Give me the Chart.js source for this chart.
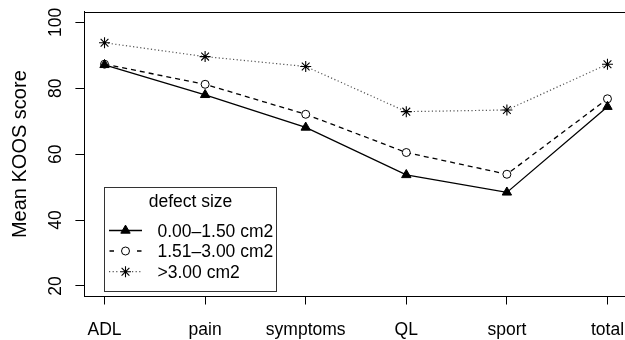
<!DOCTYPE html>
<html>
<head>
<meta charset="utf-8">
<script src="https://cdn.jsdelivr.net/npm/chart.js@4.4.1/dist/chart.umd.min.js"></script>
<style>
html,body{margin:0;padding:0;background:#fff;overflow:hidden;}
#wrap{width:640px;height:340px;}
</style>
</head>
<body>
<div id="wrap"><canvas id="c" width="640" height="340"></canvas></div>
<script>
const categories = ['ADL', 'pain', 'symptoms', 'QL', 'sport', 'total'];
const smallDefect = [87.1, 78.0, 68.1, 53.7, 48.4, 74.4];
const mediumDefect = [87.3, 81.2, 72.1, 60.5, 53.9, 76.8];
const largeDefect = [93.8, 89.6, 86.6, 72.9, 73.4, 87.3];
const yTicks = [20, 40, 60, 80, 100];
const seriesLabels = ['0.00\u20131.50 cm2', '1.51\u20133.00 cm2', '>3.00 cm2'];
const legendTitle = 'defect size';
const yTitle = 'Mean KOOS score';

const FONT = "'Liberation Sans', Arial, sans-serif";

const styles = [
  {color:'#000', dash:[], width:1.3, pointStyle:'triangle', radius:5.4, fill:'#000', pbw:1},
  {color:'#000', dash:[5,4], width:1.3, pointStyle:'circle', radius:4, fill:'#fff', pbw:1},
  {color:'#555', dash:[1.2,2.4], width:1.2, pointStyle:'star', radius:5.5, fill:'#000', pbw:1.1}
];
const allSeries = [smallDefect, mediumDefect, largeDefect];

const datasets = allSeries.map((vals, k) => ({
  label: seriesLabels[k],
  data: vals.map((v, i) => ({x: i + 1, y: v})),
  borderColor: styles[k].color,
  borderDash: styles[k].dash,
  borderWidth: styles[k].width,
  pointStyle: styles[k].pointStyle,
  pointRadius: styles[k].radius,
  pointBackgroundColor: styles[k].fill,
  pointBorderColor: '#000',
  pointBorderWidth: styles[k].pbw,
  tension: 0,
  fill: false
}));

const decor = {
  id: 'decor',
  afterDraw(chart) {
    const ctx = chart.ctx;
    const ca = chart.chartArea;
    const xs = chart.scales.x, ys = chart.scales.y;
    ctx.save();
    // top and right border
    ctx.strokeStyle = '#000';
    ctx.lineWidth = 1;
    ctx.beginPath();
    ctx.moveTo(ca.left, Math.round(ca.top) + 0.5);
    ctx.lineTo(ca.right, Math.round(ca.top) + 0.5);
    ctx.lineTo(ca.right, ca.bottom);
    ctx.stroke();

    // x labels
    ctx.fillStyle = '#000';
    ctx.font = '17.5px ' + FONT;
    ctx.textAlign = 'center';
    ctx.textBaseline = 'alphabetic';
    categories.forEach((c, i) => {
      ctx.fillText(c, xs.getPixelForValue(i + 1), 335);
    });

    // y labels rotated
    yTicks.forEach(v => {
      const y = ys.getPixelForValue(v);
      ctx.save();
      ctx.translate(61, y);
      ctx.rotate(-Math.PI / 2);
      ctx.textAlign = 'center';
      ctx.textBaseline = 'alphabetic';
      ctx.fillText(String(v), 0, 0);
      ctx.restore();
    });

    // y title
    ctx.save();
    ctx.font = '20px ' + FONT;
    ctx.translate(26, (ca.top + ca.bottom) / 2);
    ctx.rotate(-Math.PI / 2);
    ctx.textAlign = 'center';
    ctx.textBaseline = 'alphabetic';
    ctx.fillText(yTitle, 0, 0);
    ctx.restore();

    // legend
    const L = 104.5, T = 187.5, R = 276.5, B = 291.5;
    ctx.fillStyle = '#fff';
    ctx.fillRect(L, T, R - L, B - T);
    ctx.strokeStyle = '#333';
    ctx.lineWidth = 1;
    ctx.strokeRect(L, T, R - L, B - T);
    ctx.fillStyle = '#000';
    ctx.font = '17.5px ' + FONT;
    ctx.textAlign = 'center';
    ctx.fillText(legendTitle, (L + R) / 2, 207);
    const rowY = [230.5, 251, 271.7];
    const mx = 125.5;
    seriesLabels.forEach((lab, k) => {
      const st = styles[k];
      const y = rowY[k];
      ctx.save();
      ctx.strokeStyle = st.color;
      ctx.lineWidth = st.width;
      ctx.setLineDash(st.dash);
      ctx.beginPath();
      if (k === 0) {
        ctx.moveTo(109, y); ctx.lineTo(142, y);
      } else if (k === 1) {
        ctx.setLineDash([]);
        ctx.moveTo(109.5, y); ctx.lineTo(114, y);
        ctx.moveTo(137, y); ctx.lineTo(141.5, y);
      } else {
        ctx.moveTo(109, y); ctx.lineTo(119, y);
        ctx.moveTo(132, y); ctx.lineTo(142, y);
      }
      ctx.stroke();
      ctx.setLineDash([]);
      ctx.fillStyle = st.fill;
      ctx.strokeStyle = '#000';
      ctx.lineWidth = st.pbw;
      Chart.helpers.drawPoint(ctx, {pointStyle: st.pointStyle, radius: st.radius, rotation: 0, borderWidth: st.pbw}, mx, y);
      ctx.restore();
      ctx.fillStyle = '#000';
      ctx.textAlign = 'left';
      ctx.fillText(lab, 157.5, y + 6);
    });
    ctx.restore();
  }
};

new Chart(document.getElementById('c'), {
  type: 'line',
  data: {datasets},
  options: {
    responsive: false,
    animation: false,
    layout: {padding: {top: 11.8, right: 12.4, left: 0, bottom: 0}},
    plugins: {legend: {display: false}, tooltip: {enabled: false}},
    scales: {
      x: {
        type: 'linear', min: 0.8, max: 6.2,
        afterBuildTicks: s => { s.ticks = categories.map((c, i) => ({value: i + 1})); },
        afterFit: s => { s.height = 43.5; },
        ticks: {display: false},
        grid: {drawOnChartArea: false, drawTicks: true, tickLength: 8, color: '#000', lineWidth: 1},
        border: {display: true, color: '#000', width: 1}
      },
      y: {
        type: 'linear', min: 16.8, max: 103.2,
        afterBuildTicks: s => { s.ticks = yTicks.map(v => ({value: v})); },
        afterFit: s => { s.width = 84.4; },
        ticks: {display: false},
        grid: {drawOnChartArea: false, drawTicks: true, tickLength: 9, color: '#000', lineWidth: 1},
        border: {display: true, color: '#000', width: 1}
      }
    }
  },
  plugins: [decor]
});
</script>
</body>
</html>
